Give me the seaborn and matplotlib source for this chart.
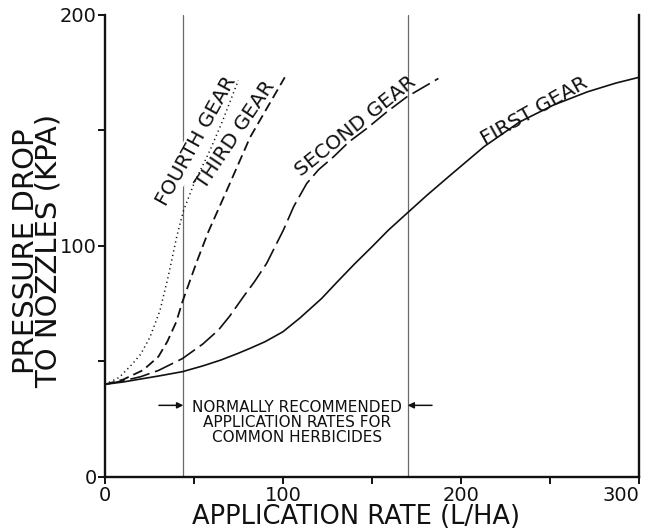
import matplotlib
matplotlib.use("Agg")
import matplotlib.pyplot as plt
from matplotlib.ticker import FixedLocator
import seaborn as sns

# Sprayer pressure drop to the nozzles against application rate, per gear
first_gear_rate = [0, 10, 20, 30, 43.6, 55, 65, 75, 81.5, 90, 100, 109.6, 121.7, 130,
                   140, 150, 159.2, 169.5, 181, 194, 213, 233, 252, 271, 287, 300]
first_gear_kpa = [40, 41, 42.3, 43.6, 45.5, 48, 50.5, 53.5, 55.6, 58.5, 62.8, 68.8, 77.2, 84,
                  92, 99.6, 106.8, 114, 122, 130.6, 143, 153.7, 161, 166.7, 170.5, 173]

second_gear_rate = [0, 10, 20, 30, 43.6, 55, 63.7, 70, 77.7, 84, 90.8, 100.2, 106, 113.3,
                    120, 128.3, 137, 147, 158, 169.5, 187.3]
second_gear_kpa = [40, 41.5, 43.3, 46, 51.2, 57.5, 63.5, 69.5, 77.9, 84.5, 92.4, 106.8, 117, 127,
                   133, 138.5, 145, 150.8, 157.8, 164.5, 172.5]

third_gear_rate = [0, 10, 21.5, 30, 35, 40, 43.6, 51.5, 58, 68.4, 81.5, 101]
third_gear_kpa = [40, 42, 46.2, 52, 58.5, 67, 76, 93, 106, 124, 147, 173]

fourth_gear_rate = [0, 8, 15, 20, 25.3, 30.9, 35.6, 40.3, 44, 50, 59, 66, 74.9]
fourth_gear_kpa = [40, 43, 48.5, 53, 60.5, 72, 87, 104, 115, 127, 141.4, 154, 171.7]

gear_names = ["FIRST GEAR", "SECOND GEAR", "THIRD GEAR", "FOURTH GEAR"]
recommended_range = [44, 170]
recommended_text = ["NORMALLY RECOMMENDED", "APPLICATION RATES FOR", "COMMON HERBICIDES"]

x_ticks = [0, 100, 200, 300]
x_minor_ticks = [50, 150, 250]
y_ticks = [0, 100, 200]
y_minor_ticks = [50, 150]

sns.set_theme(style="ticks")
plt.rcParams["font.family"] = ["DejaVu Sans"]

fig = plt.figure(figsize=(6.53, 5.29), dpi=100)
ax = fig.add_axes([0.1608, 0.0989, 0.8178, 0.8728])

ink = "#111111"

# range of recommended application rates
for xr in recommended_range:
    ax.axvline(xr, ymin=0, ymax=1, color="#6a6a6a", lw=0.9, zorder=1)

curves = [
    (first_gear_rate, first_gear_kpa, "-", 1.2),
    (second_gear_rate, second_gear_kpa, (0, (12, 3.5)), 1.2),
    (third_gear_rate, third_gear_kpa, (0, (5.5, 2.8)), 1.3),
    (fourth_gear_rate, fourth_gear_kpa, (0, (0.8, 2.2)), 1.1),
]
for xs, ys, ls, lw in curves:
    sns.lineplot(x=xs, y=ys, ax=ax, color=ink, lw=lw, linestyle=ls,
                 estimator=None, sort=False, zorder=4)

# gear labels written along their curves
label_specs = [
    (gear_names[0], 241, 158.5, 29.4, False),
    (gear_names[1], 141, 152, 38.7, False),
    (gear_names[2], 73.3, 148.2, 56, False),
    (gear_names[3], 51.3, 145.5, 61, True),
]
for name, lx, ly, rot, masked in label_specs:
    kw = dict(rotation=rot, rotation_mode="anchor", ha="center", va="center",
              fontsize=14.5, color=ink, zorder=3)
    if masked:
        kw["bbox"] = dict(facecolor="white", edgecolor="none", pad=1)
    ax.text(lx, ly, name, **kw)

# note between the two range lines
mid = sum(recommended_range) / 2
ax.text(mid + 0.7, 33, "\n".join(recommended_text), ha="center", va="top",
        fontsize=11, color=ink, linespacing=0.98)
ax.annotate("", xy=(recommended_range[0], 30.9), xytext=(30.3, 30.9),
            arrowprops=dict(arrowstyle="-|>", color=ink, lw=1.1,
                            mutation_scale=9, shrinkA=0, shrinkB=0))
ax.annotate("", xy=(recommended_range[1], 30.9), xytext=(183.7, 30.9),
            arrowprops=dict(arrowstyle="-|>", color=ink, lw=1.1,
                            mutation_scale=9, shrinkA=0, shrinkB=0))

ax.set_xlim(0, 300)
ax.set_ylim(0, 200)
ax.set_xticks(x_ticks)
ax.set_yticks(y_ticks)
ax.xaxis.set_minor_locator(FixedLocator(x_minor_ticks))
ax.yaxis.set_minor_locator(FixedLocator(y_minor_ticks))
ax.tick_params(which="both", direction="out", length=5, width=1.4,
               colors=ink, labelsize=14, pad=2)
ax.tick_params(axis="y", which="major", pad=1)
ax.get_xticklabels()[-1].set_horizontalalignment("right")

for side in ["left", "bottom", "right"]:
    ax.spines[side].set_visible(True)
    ax.spines[side].set_linewidth(1.7)
    ax.spines[side].set_color(ink)
ax.spines["top"].set_visible(False)

ax.set_xlabel("")
ax.set_ylabel("")
ax.text(0.47, -0.102, "APPLICATION RATE (L/HA)", transform=ax.transAxes,
        ha="center", va="baseline", fontsize=18.5, color=ink)
fig.text(0.057, 0.525, "PRESSURE DROP\nTO NOZZLES (KPA)", rotation=90,
         ha="center", va="center", fontsize=21, color=ink, linespacing=0.72)

fig.savefig("out.png", dpi=100, facecolor="white")
